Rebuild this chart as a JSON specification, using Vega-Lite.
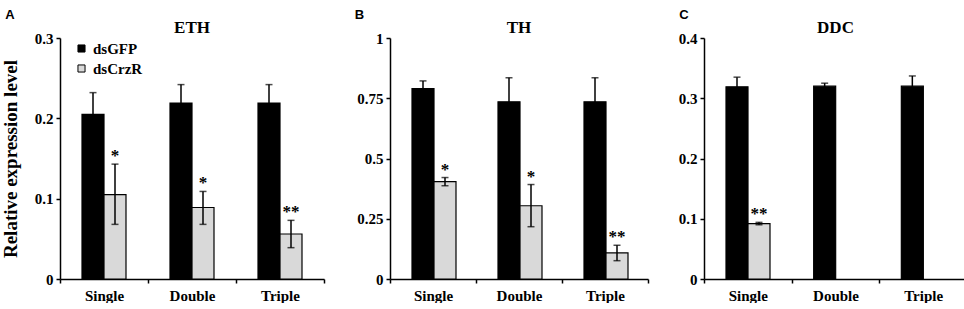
{
  "$schema": "https://vega.github.io/schema/vega-lite/v6.json",
  "padding": {"left": 1, "top": 9, "right": 2, "bottom": 0},
  "background": "white",
  "config": {
    "view": {"stroke": null},
    "font": "Liberation Serif",
    "axis": {"domainColor": "black", "domainWidth": 1.5, "tickColor": "black", "tickWidth": 1.5, "tickSize": 4, "labelFont": "Liberation Serif", "labelFontSize": 15, "labelFontWeight": "bold", "labelColor": "black", "grid": false, "titleFont": "Liberation Serif", "titleFontSize": 19, "titleFontWeight": "bold", "titleColor": "black", "labelPadding": 3},
    "axisX": {"labelPadding": 5, "labelAngle": 0, "tickBand": "extent"},
    "title": {"font": "Liberation Serif", "fontSize": 17, "fontWeight": "bold", "color": "black", "offset": -6},
    "legend": {"orient": "top-left", "offset": 3, "padding": 0, "symbolOffset": 11, "labelFont": "Liberation Serif", "labelFontSize": 15, "labelFontWeight": "bold", "labelColor": "black", "symbolType": "square", "symbolSize": 50, "symbolStrokeColor": "black", "symbolStrokeWidth": 1, "rowPadding": 4, "labelOffset": 4}
  },
  "datasets": {
    "eth": [
      {"treat": "Single", "group": "dsGFP", "value": 0.205, "lo": 0.178, "hi": 0.232, "sig": ""},
      {"treat": "Single", "group": "dsCrzR", "value": 0.105, "lo": 0.068, "hi": 0.143, "sig": "*"},
      {"treat": "Double", "group": "dsGFP", "value": 0.219, "lo": 0.197, "hi": 0.242, "sig": ""},
      {"treat": "Double", "group": "dsCrzR", "value": 0.089, "lo": 0.068, "hi": 0.109, "sig": "*"},
      {"treat": "Triple", "group": "dsGFP", "value": 0.219, "lo": 0.197, "hi": 0.242, "sig": ""},
      {"treat": "Triple", "group": "dsCrzR", "value": 0.056, "lo": 0.039, "hi": 0.073, "sig": "**"}
    ],
    "th": [
      {"treat": "Single", "group": "dsGFP", "value": 0.79, "lo": 0.758, "hi": 0.822, "sig": ""},
      {"treat": "Single", "group": "dsCrzR", "value": 0.404, "lo": 0.387, "hi": 0.421, "sig": "*"},
      {"treat": "Double", "group": "dsGFP", "value": 0.735, "lo": 0.635, "hi": 0.835, "sig": ""},
      {"treat": "Double", "group": "dsCrzR", "value": 0.304, "lo": 0.217, "hi": 0.392, "sig": "*"},
      {"treat": "Triple", "group": "dsGFP", "value": 0.735, "lo": 0.635, "hi": 0.835, "sig": ""},
      {"treat": "Triple", "group": "dsCrzR", "value": 0.108, "lo": 0.076, "hi": 0.14, "sig": "**"}
    ],
    "ddc": [
      {"treat": "Single", "group": "dsGFP", "value": 0.319, "lo": 0.303, "hi": 0.335, "sig": ""},
      {"treat": "Single", "group": "dsCrzR", "value": 0.092, "lo": 0.09, "hi": 0.094, "sig": "**"},
      {"treat": "Double", "group": "dsGFP", "value": 0.32, "lo": 0.315, "hi": 0.325, "sig": ""},
      {"treat": "Triple", "group": "dsGFP", "value": 0.32, "lo": 0.303, "hi": 0.337, "sig": ""}
    ]
  },
  "spacing": 29,
  "resolve": {"scale": {"color": "independent"}, "legend": {"color": "independent"}},
  "hconcat": [
    {
      "title": {"text": "A", "anchor": "start", "frame": "bounds", "font": "Liberation Sans", "fontSize": 13, "dx": 4, "offset": -3},
      "resolve": {"scale": {"color": "independent"}, "legend": {"color": "independent"}},
      "hconcat": [
        {
          "title": {"text": "ETH"},
          "width": 264, "height": 241,
          "data": {"name": "eth"},
          "encoding": {
            "x": {"field": "treat", "type": "nominal", "sort": ["Single", "Double", "Triple"], "scale": {"paddingInner": 0, "paddingOuter": 0}, "axis": {"title": null}},
            "xOffset": {"field": "group", "type": "nominal", "sort": ["dsGFP", "dsCrzR"], "scale": {"domain": ["dsGFP", "dsCrzR"], "paddingInner": 0, "paddingOuter": 1.1}}
          },
          "layer": [
            {"mark": {"type": "bar", "stroke": "black", "strokeWidth": 1.2},
             "encoding": {
               "y": {"field": "value", "type": "quantitative", "title": "Relative expression level", "scale": {"domain": [0, 0.3]}, "axis": {"values": [0, 0.1, 0.2, 0.3], "format": ".2~f", "titlePadding": 14}},
               "color": {"field": "group", "type": "nominal", "scale": {"domain": ["dsGFP", "dsCrzR"], "range": ["black", "#d9d9d9"]}, "legend": {"title": null}}
             }},
            {"mark": {"type": "rule", "color": "black", "strokeWidth": 1.5},
             "encoding": {"y": {"field": "lo", "type": "quantitative", "title": "Relative expression level"}, "y2": {"field": "hi"}}},
            {"mark": {"type": "tick", "orient": "horizontal", "color": "black", "size": 7, "thickness": 1.5},
             "encoding": {"y": {"field": "lo", "type": "quantitative", "title": "Relative expression level"}}},
            {"mark": {"type": "tick", "orient": "horizontal", "color": "black", "size": 7, "thickness": 1.5},
             "encoding": {"y": {"field": "hi", "type": "quantitative", "title": "Relative expression level"}}},
            {"mark": {"type": "text", "baseline": "alphabetic", "dy": -3, "fontSize": 17, "fontWeight": "bold", "font": "Liberation Serif", "color": "black"},
             "encoding": {"y": {"field": "hi", "type": "quantitative", "title": "Relative expression level"}, "text": {"field": "sig"}}}
          ]
        }
      ]
    },
    {
      "title": {"text": "B", "anchor": "start", "frame": "bounds", "font": "Liberation Sans", "fontSize": 13, "dx": -2, "offset": -3},
      "resolve": {"scale": {"color": "independent"}, "legend": {"color": "independent"}},
      "hconcat": [
        {
          "title": {"text": "TH"},
          "width": 258, "height": 241,
          "data": {"name": "th"},
          "encoding": {
            "x": {"field": "treat", "type": "nominal", "sort": ["Single", "Double", "Triple"], "scale": {"paddingInner": 0, "paddingOuter": 0}, "axis": {"title": null}},
            "xOffset": {"field": "group", "type": "nominal", "sort": ["dsGFP", "dsCrzR"], "scale": {"domain": ["dsGFP", "dsCrzR"], "paddingInner": 0, "paddingOuter": 1.1}}
          },
          "layer": [
            {"mark": {"type": "bar", "stroke": "black", "strokeWidth": 1.2},
             "encoding": {
               "y": {"field": "value", "type": "quantitative", "title": null, "scale": {"domain": [0, 1]}, "axis": {"values": [0, 0.25, 0.5, 0.75, 1], "format": ".2~f"}},
               "color": {"field": "group", "type": "nominal", "scale": {"domain": ["dsGFP", "dsCrzR"], "range": ["black", "#d9d9d9"]}, "legend": null}
             }},
            {"mark": {"type": "rule", "color": "black", "strokeWidth": 1.5},
             "encoding": {"y": {"field": "lo", "type": "quantitative", "title": null}, "y2": {"field": "hi"}}},
            {"mark": {"type": "tick", "orient": "horizontal", "color": "black", "size": 7, "thickness": 1.5},
             "encoding": {"y": {"field": "lo", "type": "quantitative", "title": null}}},
            {"mark": {"type": "tick", "orient": "horizontal", "color": "black", "size": 7, "thickness": 1.5},
             "encoding": {"y": {"field": "hi", "type": "quantitative", "title": null}}},
            {"mark": {"type": "text", "baseline": "alphabetic", "dy": -3, "fontSize": 17, "fontWeight": "bold", "font": "Liberation Serif", "color": "black"},
             "encoding": {"y": {"field": "hi", "type": "quantitative", "title": null}, "text": {"field": "sig"}}}
          ]
        }
      ]
    },
    {
      "title": {"text": "C", "anchor": "start", "frame": "bounds", "font": "Liberation Sans", "fontSize": 13, "dx": 1, "offset": -3},
      "resolve": {"scale": {"color": "independent"}, "legend": {"color": "independent"}},
      "hconcat": [
        {
          "title": {"text": "DDC"},
          "width": 263, "height": 241,
          "data": {"name": "ddc"},
          "encoding": {
            "x": {"field": "treat", "type": "nominal", "sort": ["Single", "Double", "Triple"], "scale": {"domain": ["Single", "Double", "Triple"], "paddingInner": 0, "paddingOuter": 0}, "axis": {"title": null}},
            "xOffset": {"field": "group", "type": "nominal", "sort": ["dsGFP", "dsCrzR"], "scale": {"domain": ["dsGFP", "dsCrzR"], "paddingInner": 0, "paddingOuter": 1.1}}
          },
          "layer": [
            {"mark": {"type": "bar", "stroke": "black", "strokeWidth": 1.2},
             "encoding": {
               "y": {"field": "value", "type": "quantitative", "title": null, "scale": {"domain": [0, 0.4]}, "axis": {"values": [0, 0.1, 0.2, 0.3, 0.4], "format": ".2~f"}},
               "color": {"field": "group", "type": "nominal", "scale": {"domain": ["dsGFP", "dsCrzR"], "range": ["black", "#d9d9d9"]}, "legend": null}
             }},
            {"mark": {"type": "rule", "color": "black", "strokeWidth": 1.5},
             "encoding": {"y": {"field": "lo", "type": "quantitative", "title": null}, "y2": {"field": "hi"}}},
            {"mark": {"type": "tick", "orient": "horizontal", "color": "black", "size": 7, "thickness": 1.5},
             "encoding": {"y": {"field": "lo", "type": "quantitative", "title": null}}},
            {"mark": {"type": "tick", "orient": "horizontal", "color": "black", "size": 7, "thickness": 1.5},
             "encoding": {"y": {"field": "hi", "type": "quantitative", "title": null}}},
            {"mark": {"type": "text", "baseline": "alphabetic", "dy": -3, "fontSize": 17, "fontWeight": "bold", "font": "Liberation Serif", "color": "black"},
             "encoding": {"y": {"field": "hi", "type": "quantitative", "title": null}, "text": {"field": "sig"}}}
          ]
        }
      ]
    }
  ]
}
